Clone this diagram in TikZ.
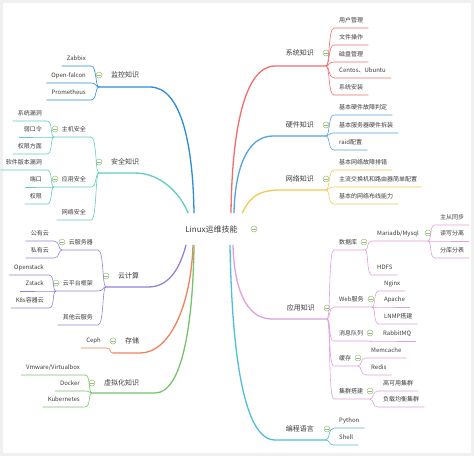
\documentclass[tikz,border=0pt]{standalone}
\usepackage{fontspec}
\setmainfont{Noto Sans CJK SC}
\usetikzlibrary{calc}
\definecolor{mmtext}{RGB}{60,60,60}
\definecolor{mmframe}{RGB}{240,240,240}
\definecolor{mmknob}{RGB}{150,190,120}
\definecolor{mmsys}{RGB}{240,110,110}
\definecolor{mmhw}{RGB}{86,164,224}
\definecolor{mmnet}{RGB}{246,200,80}
\definecolor{mmapp}{RGB}{224,160,220}
\definecolor{mmprog}{RGB}{80,190,215}
\definecolor{mmmon}{RGB}{45,140,215}
\definecolor{mmsec}{RGB}{95,205,195}
\definecolor{mmcloud}{RGB}{150,128,218}
\definecolor{mmstore}{RGB}{242,130,95}
\definecolor{mmvirt}{RGB}{120,195,110}

\begin{document}
\begin{tikzpicture}[x=1pt, y=1pt,
    root/.style={fill=white, rounded corners=4pt, minimum width=77pt, minimum height=32pt, font=\fontsize{8}{10}\selectfont, text=mmtext},
    topic/.style={font=\fontsize{7}{9}\selectfont, text=mmtext, inner sep=1pt},
    leaf/.style={font=\fontsize{6}{7}\selectfont, text=mmtext, inner xsep=5pt, inner ysep=4.5pt, text height=5pt, text depth=1pt},
    knob/.style={circle, draw=mmknob, fill=white, line width=0.5pt, minimum size=6pt, inner sep=0pt,
      path picture={\draw[mmknob, line width=0.6pt] ([xshift=1.4pt]path picture bounding box.west) -- ([xshift=-1.4pt]path picture bounding box.east);}},
    br/.style={line width=1.3pt, line cap=round},
    ln/.style={line width=0.6pt},
    rfan/.style={to path={.. controls +(4,0) and +(-6,0) .. (\tikztotarget)}},
    lfan/.style={to path={.. controls +(-4,0) and +(6,0) .. (\tikztotarget)}}
  ]
    \useasboundingbox (0,0) rectangle (474,-456);
    \fill[mmframe] (0,0) rectangle (474,-456);
    \fill[white] (3,-3) rectangle (471,-453);

    % centre
    \node[root] (root) at (211.5,-229) {Linux运维技能};
    \node[knob] (kroot) at (254,-229) {};

    % fan points
    \coordinate (sysB) at (275,-66);   \coordinate (sysF) at (326,-66);
    \coordinate (hwB) at (273,-136);   \coordinate (hwF) at (326,-136);
    \coordinate (netB) at (280,-190);  \coordinate (netF) at (326,-190);
    \coordinate (appB) at (272,-319);  \coordinate (appF) at (327,-319);
    \coordinate (progB) at (275,-440); \coordinate (progF) at (326,-440);
    \coordinate (monB) at (150,-87);   \coordinate (monF) at (99,-87);
    \coordinate (secB) at (135,-173);  \coordinate (secF) at (99,-173);
    \coordinate (cloudB) at (148,-287); \coordinate (cloudF) at (106,-287);
    \coordinate (storeB) at (140,-353); \coordinate (storeF) at (113,-353);
    \coordinate (virtB) at (155,-393); \coordinate (virtF) at (92,-393);

    % main branches
    \draw[br, mmsys] ([xshift=19.5pt]root.north) .. controls +(1,81) and +(-31,0) .. (sysB) -- (sysF);
    \draw[br, mmhw] ([xshift=22.5pt]root.north) .. controls +(1,42) and +(-27,0) .. (hwB) -- (hwF);
    \draw[br, mmnet] ([xshift=31pt]root.north) .. controls +(6,13) and +(-24,0) .. (netB) -- (netF);
    \draw[br, mmapp] ([xshift=21.5pt]root.south) .. controls +(1,-41) and +(-27,0) .. (appB) -- (appF);
    \draw[br, mmprog] ([xshift=18.5pt]root.south) .. controls +(2,-110) and +(-31,0) .. (progB) -- (progF);
    \draw[br, mmmon] ([xshift=-17.5pt]root.north) .. controls +(-1,69) and +(31,0) .. (monB) -- (monF);
    \draw[br, mmsec] ([xshift=-23.5pt]root.north) .. controls +(-8,20) and +(25,0) .. (secB) -- (secF);
    \draw[br, mmcloud] ([xshift=-25.5pt]root.south) .. controls +(-6,-22) and +(22,0) .. (cloudB) -- (cloudF);
    \draw[br, mmstore] ([xshift=-18.5pt]root.south) .. controls +(-2,-60) and +(30,0) .. (storeB) -- (storeF);
    \draw[br, mmvirt] ([xshift=-17.5pt]root.south) .. controls +(-1,-80) and +(27,0) .. (virtB) -- (virtF);

    % topics
    \node[topic, anchor=east] (sys) at (315,-53) {系统知识};     \node[knob] (ksys) at (326,-53) {};
    \node[topic, anchor=east] (hw) at (315,-125) {硬件知识};     \node[knob] (khw) at (326,-125) {};
    \node[topic, anchor=east] (net) at (315,-179) {网络知识};    \node[knob] (knet) at (326,-179) {};
    \node[topic, anchor=east] (app) at (316,-308) {应用知识};    \node[knob] (kapp) at (327,-308) {};
    \node[topic, anchor=east] (prog) at (315,-429) {编程语言};   \node[knob] (kprog) at (327,-429) {};
    \node[topic, anchor=west] (mon) at (110,-75) {监控知识};     \node[knob] (kmon) at (99,-75) {};
    \node[topic, anchor=west] (sec) at (110,-162) {安全知识};    \node[knob] (ksec) at (99,-162) {};
    \node[topic, anchor=west] (cloud) at (117,-276) {云计算};    \node[knob] (kcloud) at (106,-276) {};
    \node[topic, anchor=west] (store) at (124,-341) {存储};      \node[knob] (kstore) at (113,-341) {};
    \node[topic, anchor=west] (virt) at (103,-383) {虚拟化知识}; \node[knob] (kvirt) at (92,-383) {};

    % system
    \node[leaf, anchor=south west] (s1) at (334,-28) {用户管理};
    \node[leaf, anchor=south west] (s2) at (334,-45) {文件操作};
    \node[leaf, anchor=south west] (s3) at (334,-62) {磁盘管理};
    \node[leaf, anchor=south west] (s4) at (334,-78) {Centos、Ubuntu};
    \node[leaf, anchor=south west] (s5) at (334,-95) {系统安装};
    \draw[ln, mmsys] (sysF) to[rfan] (s1.south west) -- (s1.south east);
    \draw[ln, mmsys] (sysF) to[rfan] (s2.south west) -- (s2.south east);
    \draw[ln, mmsys] (sysF) to[rfan] (s3.south west) -- (s3.south east);
    \draw[ln, mmsys] (sysF) to[rfan] (s4.south west) -- (s4.south east);
    \draw[ln, mmsys] (sysF) to[rfan] (s5.south west) -- (s5.south east);

    % hardware
    \node[leaf, anchor=south west] (h1) at (334,-115) {基本硬件故障判定};
    \node[leaf, anchor=south west] (h2) at (334,-133) {基本服务器硬件拆装};
    \node[leaf, anchor=south west] (h3) at (334,-150) {raid配置};
    \draw[ln, mmhw] (hwF) to[rfan] (h1.south west) -- (h1.south east);
    \draw[ln, mmhw] (hwF) to[rfan] (h2.south west) -- (h2.south east);
    \draw[ln, mmhw] (hwF) to[rfan] (h3.south west) -- (h3.south east);

    % network
    \node[leaf, anchor=south west] (n1) at (334,-170) {基本网络故障排错};
    \node[leaf, anchor=south west] (n2) at (334,-187) {主流交换机和路由器简单配置};
    \node[leaf, anchor=south west] (n3) at (334,-204) {基本的网络布线能力};
    \draw[ln, mmnet] (netF) to[rfan] (n1.south west) -- (n1.south east);
    \draw[ln, mmnet] (netF) to[rfan] (n2.south west) -- (n2.south east);
    \draw[ln, mmnet] (netF) to[rfan] (n3.south west) -- (n3.south east);

    % applications
    \coordinate (dbF) at (365,-250);
    \coordinate (myF) at (428,-241);
    \coordinate (webF) at (372,-307);
    \coordinate (mqF) at (370,-341);
    \coordinate (cacheF) at (358,-366);
    \coordinate (clF) at (370,-399);
    \node[leaf, anchor=south west] (db) at (334,-250) {数据库};      \node[knob] (kdb) at (364,-242) {};
    \node[leaf, anchor=south west] (my) at (372,-241) {Mariadb/Mysql}; \node[knob] (kmy) at (428,-233) {};
    \node[leaf, anchor=south west] (my1) at (435,-225) {主从同步};
    \node[leaf, anchor=south west] (my2) at (435,-241) {读写分离};
    \node[leaf, anchor=south west] (my3) at (435,-258) {分库分表};
    \node[leaf, anchor=south west] (hdfs) at (372,-275) {HDFS};
    \node[leaf, anchor=south west] (web) at (334,-307) {Web服务};     \node[knob] (kweb) at (371,-299) {};
    \node[leaf, anchor=south west] (web1) at (379,-291) {Nginx};
    \node[leaf, anchor=south west] (web2) at (379,-307) {Apache};
    \node[leaf, anchor=south west] (web3) at (379,-324) {LNMP搭建};
    \node[leaf, anchor=south west] (mq) at (334,-341) {消息队列};     \node[knob] (kmq) at (370,-333) {};
    \node[leaf, anchor=south west] (mq1) at (378,-341) {RabbitMQ};
    \node[leaf, anchor=south west] (cache) at (334,-366) {缓存};      \node[knob] (kcache) at (358,-358) {};
    \node[leaf, anchor=south west] (cache1) at (366,-358) {Memcache};
    \node[leaf, anchor=south west] (cache2) at (366,-375) {Redis};
    \node[leaf, anchor=south west] (cl) at (334,-399) {集群搭建};     \node[knob] (kcl) at (370,-391) {};
    \node[leaf, anchor=south west] (cl1) at (378,-391) {高可用集群};
    \node[leaf, anchor=south west] (cl2) at (378,-407) {负载均衡集群};
    \draw[ln, mmapp] (appF) to[rfan] (db.south west) -- (dbF);
    \draw[ln, mmapp] (dbF) to[rfan] (my.south west) -- (myF);
    \draw[ln, mmapp] (myF) to[rfan] (my1.south west) -- (my1.south east);
    \draw[ln, mmapp] (myF) to[rfan] (my2.south west) -- (my2.south east);
    \draw[ln, mmapp] (myF) to[rfan] (my3.south west) -- (my3.south east);
    \draw[ln, mmapp] (dbF) to[rfan] (hdfs.south west) -- (hdfs.south east);
    \draw[ln, mmapp] (appF) to[rfan] (web.south west) -- (webF);
    \draw[ln, mmapp] (webF) to[rfan] (web1.south west) -- (web1.south east);
    \draw[ln, mmapp] (webF) to[rfan] (web2.south west) -- (web2.south east);
    \draw[ln, mmapp] (webF) to[rfan] (web3.south west) -- (web3.south east);
    \draw[ln, mmapp] (appF) to[rfan] (mq.south west) -- (mqF);
    \draw[ln, mmapp] (mqF) to[rfan] (mq1.south west) -- (mq1.south east);
    \draw[ln, mmapp] (appF) to[rfan] (cache.south west) -- (cacheF);
    \draw[ln, mmapp] (cacheF) to[rfan] (cache1.south west) -- (cache1.south east);
    \draw[ln, mmapp] (cacheF) to[rfan] (cache2.south west) -- (cache2.south east);
    \draw[ln, mmapp] (appF) to[rfan] (cl.south west) -- (clF);
    \draw[ln, mmapp] (clF) to[rfan] (cl1.south west) -- (cl1.south east);
    \draw[ln, mmapp] (clF) to[rfan] (cl2.south west) -- (cl2.south east);

    % programming
    \node[leaf, anchor=south west] (p1) at (334,-428) {Python};
    \node[leaf, anchor=south west] (p2) at (334,-445) {Shell};
    \draw[ln, mmprog] (progF) to[rfan] (p1.south west) -- (p1.south east);
    \draw[ln, mmprog] (progF) to[rfan] (p2.south west) -- (p2.south east);

    % monitoring
    \node[leaf, anchor=south east] (m1) at (91,-66) {Zabbix};
    \node[leaf, anchor=south east] (m2) at (91,-83) {Open-falcon};
    \node[leaf, anchor=south east] (m3) at (91,-100) {Prometheus};
    \draw[ln, mmmon] (monF) to[lfan] (m1.south east) -- (m1.south west);
    \draw[ln, mmmon] (monF) to[lfan] (m2.south east) -- (m2.south west);
    \draw[ln, mmmon] (monF) to[lfan] (m3.south east) -- (m3.south west);

    % security
    \coordinate (hostF) at (54,-137);
    \coordinate (appsF) at (54,-187);
    \node[leaf, anchor=south east] (host) at (91,-137) {主机安全};   \node[knob] (khost) at (55,-129) {};
    \node[leaf, anchor=south east] (host1) at (47,-121) {系统漏洞};
    \node[leaf, anchor=south east] (host2) at (47,-137) {弱口令};
    \node[leaf, anchor=south east] (host3) at (47,-154) {权限方面};
    \node[leaf, anchor=south east] (apps) at (91,-187) {应用安全};   \node[knob] (kapps) at (55,-179) {};
    \node[leaf, anchor=south east] (apps1) at (47,-170) {软件版本漏洞};
    \node[leaf, anchor=south east] (apps2) at (47,-187) {端口};
    \node[leaf, anchor=south east] (apps3) at (47,-204) {权限};
    \node[leaf, anchor=south east] (nets) at (91,-220) {网络安全};
    \draw[ln, mmsec] (secF) to[lfan] (host.south east) -- (hostF);
    \draw[ln, mmsec] (hostF) to[lfan] (host1.south east) -- (host1.south west);
    \draw[ln, mmsec] (hostF) to[lfan] (host2.south east) -- (host2.south west);
    \draw[ln, mmsec] (hostF) to[lfan] (host3.south east) -- (host3.south west);
    \draw[ln, mmsec] (secF) to[lfan] (apps.south east) -- (appsF);
    \draw[ln, mmsec] (appsF) to[lfan] (apps1.south east) -- (apps1.south west);
    \draw[ln, mmsec] (appsF) to[lfan] (apps2.south east) -- (apps2.south west);
    \draw[ln, mmsec] (appsF) to[lfan] (apps3.south east) -- (apps3.south west);
    \draw[ln, mmsec] (secF) to[lfan] (nets.south east) -- (nets.south west);

    % cloud
    \coordinate (csF) at (62,-250);
    \coordinate (cpF) at (56,-291);
    \node[leaf, anchor=south east] (cs) at (98,-250) {云服务器};    \node[knob] (kcs) at (62,-242) {};
    \node[leaf, anchor=south east] (cs1) at (54,-241) {公有云};
    \node[leaf, anchor=south east] (cs2) at (54,-258) {私有云};
    \node[leaf, anchor=south east] (cp) at (98,-291) {云平台框架};  \node[knob] (kcp) at (56,-283) {};
    \node[leaf, anchor=south east] (cp1) at (49,-275) {Openstack};
    \node[leaf, anchor=south east] (cp2) at (49,-291) {Zstack};
    \node[leaf, anchor=south east] (cp3) at (49,-308) {K8s容器云};
    \node[leaf, anchor=south east] (co) at (98,-325) {其他云服务};
    \draw[ln, mmcloud] (cloudF) to[lfan] (cs.south east) -- (csF);
    \draw[ln, mmcloud] (csF) to[lfan] (cs1.south east) -- (cs1.south west);
    \draw[ln, mmcloud] (csF) to[lfan] (cs2.south east) -- (cs2.south west);
    \draw[ln, mmcloud] (cloudF) to[lfan] (cp.south east) -- (cpF);
    \draw[ln, mmcloud] (cpF) to[lfan] (cp1.south east) -- (cp1.south west);
    \draw[ln, mmcloud] (cpF) to[lfan] (cp2.south east) -- (cp2.south west);
    \draw[ln, mmcloud] (cpF) to[lfan] (cp3.south east) -- (cp3.south west);
    \draw[ln, mmcloud] (cloudF) to[lfan] (co.south east) -- (co.south west);

    % storage
    \node[leaf, anchor=south east] (ceph) at (106,-348) {Ceph};
    \draw[ln, mmstore] (storeF) to[lfan] (ceph.south east) -- (ceph.south west);

    % virtualisation
    \node[leaf, anchor=south east] (v1) at (85,-375) {Vmware/Virtualbox};
    \node[leaf, anchor=south east] (v2) at (85,-391) {Docker};
    \node[leaf, anchor=south east] (v3) at (85,-407) {Kubernetes};
    \draw[ln, mmvirt] (virtF) to[lfan] (v1.south east) -- (v1.south west);
    \draw[ln, mmvirt] (virtF) to[lfan] (v2.south east) -- (v2.south west);
    \draw[ln, mmvirt] (virtF) to[lfan] (v3.south east) -- (v3.south west);
  \end{tikzpicture}
\end{document}
